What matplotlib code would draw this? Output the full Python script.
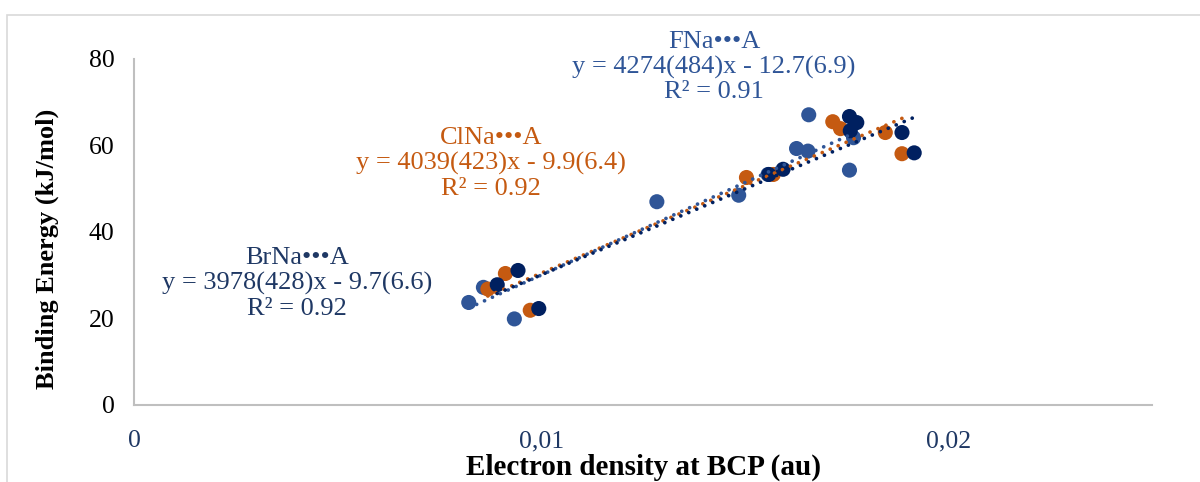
import matplotlib.pyplot as plt
import numpy as np
from matplotlib.patches import Rectangle
from matplotlib.ticker import FuncFormatter

plt.rcParams['font.family'] = ['Liberation Serif', 'DejaVu Serif']

# electron density at BCP (au) and binding energy (kJ/mol)
fna_x = [0.00822, 0.00858, 0.00934, 0.01284, 0.01485, 0.01557, 0.01627,
         0.01655, 0.01657, 0.01757, 0.01767]
fna_y = [23.7, 27.2, 19.9, 47.0, 48.5, 53.3, 59.3, 58.7, 67.1, 54.3, 61.8]

clna_x = [0.00869, 0.00912, 0.00973, 0.01504, 0.01570, 0.01716, 0.01735,
          0.01845, 0.01886]
clna_y = [26.8, 30.4, 21.9, 52.6, 53.3, 65.5, 63.9, 63.0, 58.1]

brna_x = [0.00892, 0.00943, 0.00994, 0.01559, 0.01594, 0.01757, 0.01775,
          0.01759, 0.01886, 0.01916]
brna_y = [27.8, 31.1, 22.3, 53.3, 54.5, 66.7, 65.3, 63.4, 63.0, 58.3]

# reported fits: slope, intercept, labels
fits = {
    'FNa':  (4274, -12.7, 'FNa\u2022\u2022\u2022A\ny = 4274(484)x - 12.7(6.9)\nR\u00b2 = 0.91'),
    'ClNa': (4039, -9.9,  'ClNa\u2022\u2022\u2022A\ny = 4039(423)x - 9.9(6.4)\nR\u00b2 = 0.92'),
    'BrNa': (3978, -9.7,  'BrNa\u2022\u2022\u2022A\ny = 3978(428)x - 9.7(6.6)\nR\u00b2 = 0.92'),
}

c_f, c_cl, c_br = '#2F5597', '#C55A11', '#002060'

fig = plt.figure(figsize=(12, 4.82), dpi=100)
ax = fig.add_axes([0.1117, 0.1598, 0.8483, 0.7178])

# frame around the chart area
fig.patches.append(Rectangle((7/1200, -0.1), 1.2, (1 - 15/482) + 0.1,
                             transform=fig.transFigure, fill=False,
                             edgecolor='#D9D9D9', linewidth=1.2))

series = [('FNa', fna_x, fna_y, c_f), ('ClNa', clna_x, clna_y, c_cl),
          ('BrNa', brna_x, brna_y, c_br)]
for name, xs, ys, col in series:
    ax.scatter(xs, ys, s=118, color=col, edgecolors='none', zorder=3)

for name, xs, ys, col in series:
    m, b, _ = fits[name]
    xx = np.array([min(xs), max(xs)])
    line, = ax.plot(xx, m * xx + b, color=col, linewidth=2.7,
                    linestyle=(0, (0.01, 2.3)), zorder=4)
    line.set_dash_capstyle('round')

ax.set_xlim(0, 0.025)
ax.set_ylim(0, 80)
ax.set_xticks([0, 0.01, 0.02])
ax.set_yticks([0, 20, 40, 60, 80])
ax.xaxis.set_major_formatter(FuncFormatter(
    lambda v, p: '0' if v == 0 else ('%g' % v).replace('.', ',')))
ax.tick_params(length=0, labelsize=18.5)
ax.tick_params(axis='x', pad=18)
ax.tick_params(axis='y', pad=14)
for t in ax.get_xticklabels():
    t.set_color('#1F3864')

for s in ['top', 'right']:
    ax.spines[s].set_visible(False)
for s in ['left', 'bottom']:
    ax.spines[s].set_color('#BFBFBF')
    ax.spines[s].set_linewidth(1.5)

ax.set_xlabel('Electron density at BCP (au)', fontsize=21, fontweight='bold')
ax.xaxis.set_label_coords(0.5, -0.18)
ax.set_ylabel('Binding Energy (kJ/mol)', fontsize=19, fontweight='bold')
ax.yaxis.set_label_coords(-0.0855, 0.45)
ax.xaxis.label.set_va('center')
ax.yaxis.label.set_va('center')

fig.text(0.595, 0.861, fits['FNa'][2], color='#2F5597', fontsize=19,
         ha='center', va='center', multialignment='center', linespacing=1.15)
fig.text(0.409, 0.661, fits['ClNa'][2], color=c_cl, fontsize=19,
         ha='center', va='center', multialignment='center', linespacing=1.15)
fig.text(0.2475, 0.412, fits['BrNa'][2], color='#1F3864', fontsize=19,
         ha='center', va='center', multialignment='center', linespacing=1.15)

fig.savefig('out.png', dpi=100)
